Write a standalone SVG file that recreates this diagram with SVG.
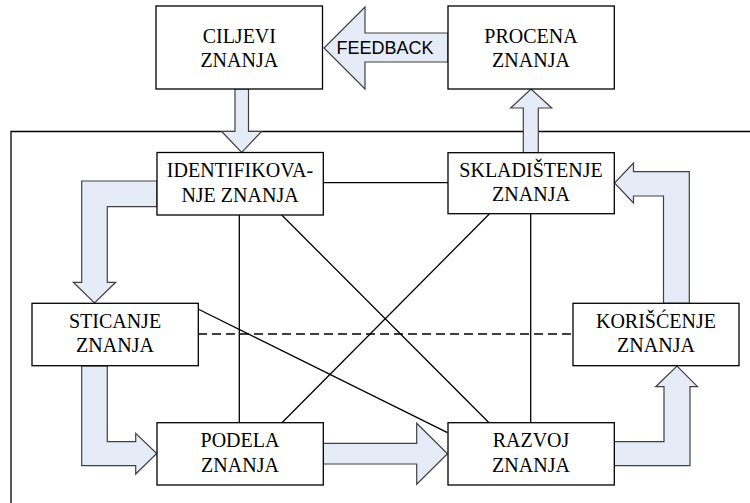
<svg xmlns="http://www.w3.org/2000/svg" width="750" height="503" viewBox="0 0 750 503">
<style>
.box{fill:#fff;stroke:#000;stroke-width:1.3}
.t{font-size:20px;fill:#000;text-anchor:middle}
.arr{fill:#E6ECF7;stroke:#404040;stroke-width:1.2;stroke-linejoin:miter}
.ln{stroke:#000;stroke-width:1.3;fill:none}
.fb{font-size:18px;fill:#000;text-anchor:middle}
</style>
<rect width="750" height="503" fill="#fff"/>
<g id="frame">
<polyline class="ln" points="11,503 11,131.5 750,131.5"/>
</g>
<g id="connectors">
<line class="ln" x1="323" y1="182.7" x2="448" y2="182.7"/>
<line class="ln" x1="239.3" y1="215" x2="239.3" y2="423"/>
<line class="ln" x1="281.7" y1="215" x2="489.3" y2="423"/>
<line class="ln" x1="281.7" y1="423" x2="489.3" y2="214"/>
<line class="ln" x1="530.7" y1="213" x2="530.7" y2="423"/>
<line class="ln" x1="198" y1="309" x2="447.5" y2="432.7"/>
<line class="ln" x1="198" y1="334" x2="573" y2="334" stroke-dasharray="9,5"/>
<polygon class="arr" points="324,48 365,7 365,33 448,33 448,62 365,62 365,89"/>
<text class="fb" font-family="Liberation Sans, Arial, sans-serif" x="385" y="53.5">FEEDBACK</text>
<polygon class="arr" points="235,89 248.5,89 248.5,131.5 261.5,131.5 241.7,152.5 221.7,131.5 235,131.5"/>
<polygon class="arr" points="523.3,153 523.3,108 510.7,108 531,89 551.7,108 538.3,108 538.3,153"/>
<polygon class="arr" points="157,181 81.7,181 81.7,282.3 73.3,282.3 94.5,303 115.7,282.3 107.3,282.3 107.3,206.7 157,206.7"/>
<polygon class="arr" points="81.7,366 107.3,366 107.3,441.7 135.7,441.7 135.7,433.3 156.7,453.5 135.7,474 135.7,465.7 81.7,465.7"/>
<polygon class="arr" points="323,443.3 416.7,443.3 416.7,423.3 447.5,453.7 416.7,484.3 416.7,464 323,464"/>
<polygon class="arr" points="614,441.7 664,441.7 664,386.7 655.7,386.7 677,366 697.5,386.7 690,386.7 690,465.7 614,465.7"/>
<polygon class="arr" points="663.5,303.3 663.5,196 633.5,196 633.5,203 614.5,183 633.5,163 633.5,171.7 689.3,171.7 689.3,303.3"/>
</g>
<g font-family="Liberation Serif, Times New Roman, DejaVu Serif, serif">
<g id="ciljevi">
<rect class="box" x="156" y="6" width="166.5" height="83"/>
<text class="t" x="239.3" y="42.5">CILJEVI</text>
<text class="t" x="239.3" y="66.5">ZNANJA</text>
</g>
<g id="procena">
<rect class="box" x="448" y="6" width="166.3" height="83"/>
<text class="t" x="531" y="42.5">PROCENA</text>
<text class="t" x="531" y="66.5">ZNANJA</text>
</g>
<g id="identifikovanje">
<rect class="box" x="157" y="152.5" width="166.3" height="62.5"/>
<text class="t" x="240" y="177.3">IDENTIFIKOVA-</text>
<text class="t" x="240" y="201.7">NJE ZNANJA</text>
</g>
<g id="skladistenje">
<rect class="box" x="448" y="152.7" width="166.3" height="61"/>
<text class="t" x="531" y="176.8">SKLADIŠTENJE</text>
<text class="t" x="531" y="201">ZNANJA</text>
</g>
<g id="sticanje">
<rect class="box" x="32" y="303.3" width="166.3" height="62.4"/>
<text class="t" x="115" y="327.7">STICANJE</text>
<text class="t" x="115" y="352.3">ZNANJA</text>
</g>
<g id="koriscenje">
<rect class="box" x="573" y="303.3" width="166" height="62.4"/>
<text class="t" x="656" y="327.7">KORIŠĆENJE</text>
<text class="t" x="656" y="352.3">ZNANJA</text>
</g>
<g id="podela">
<rect class="box" x="157" y="422.7" width="166.3" height="62.3"/>
<text class="t" x="240" y="447.3">PODELA</text>
<text class="t" x="240" y="471.7">ZNANJA</text>
</g>
<g id="razvoj">
<rect class="box" x="448" y="422.7" width="166.3" height="62.3"/>
<text class="t" x="531" y="447.3">RAZVOJ</text>
<text class="t" x="531" y="471.7">ZNANJA</text>
</g>
</g>
</svg>
